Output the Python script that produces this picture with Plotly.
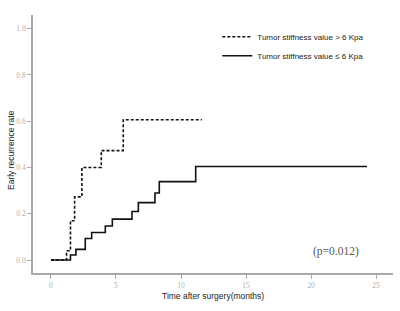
import plotly.graph_objects as go

# Kaplan-Meier style cumulative recurrence curves
high_months = [0, 1.2, 1.5, 1.82, 2.38, 3.87, 5.56, 11.6]
high_rate = [0.0, 0.04, 0.17, 0.273, 0.40, 0.473, 0.606, 0.606]

low_months = [0, 1.5, 1.92, 2.64, 3.13, 4.18, 4.72, 6.23, 6.72, 8.0, 8.33, 11.13, 24.3]
low_rate = [0.0, 0.022, 0.046, 0.093, 0.119, 0.147, 0.177, 0.21, 0.248, 0.29, 0.339, 0.404, 0.404]

x_ticks = [0, 5, 10, 15, 20, 25]
y_ticks = [0.0, 0.2, 0.4, 0.6, 0.8, 1.0]
y_tick_labels = ["0.0", "0.2", "0.4", "0.6", "0.8", "1.0"]

fig = go.Figure()
fig.add_trace(go.Scatter(
    x=high_months, y=high_rate, mode="lines", line_shape="hv",
    line=dict(color="#111111", width=1.6, dash="3px,2px"),
    name="Tumor stiffness value > 6 Kpa",
))
fig.add_trace(go.Scatter(
    x=low_months, y=low_rate, mode="lines", line_shape="hv",
    line=dict(color="#111111", width=1.6),
    name="Tumor stiffness value ≤ 6 Kpa",
))

fig.add_annotation(
    x=21.9, y=0.036, xref="x", yref="y", text="(p=0.012)", showarrow=False,
    xanchor="center", yanchor="middle",
    font=dict(family="Liberation Serif", size=11.5, color="#555555"),
)

# axis titles placed as annotations for exact positioning
fig.add_annotation(
    x=213, y=296, xref="paper", yref="paper", text="Time after surgery(months)",
    showarrow=False, xanchor="center", yanchor="middle",
    font=dict(family="Liberation Sans", size=8.5, color="#222222"),
)
fig.add_annotation(
    x=11, y=150, xref="paper", yref="paper", text="Early recurrence rate",
    showarrow=False, xanchor="center", yanchor="middle", textangle=-90,
    font=dict(family="Liberation Sans", size=8.5, color="#222222"),
)

axis_common = dict(
    showline=True, linecolor="#a8a8a8", linewidth=1.6,
    ticks="outside", ticklen=4, tickcolor="#a8a8a8", tickwidth=1,
    showgrid=False, zeroline=False, automargin=False,
    tickfont=dict(family="Liberation Serif", size=7.5, color="#b0b0b0"),
)

W, H = 400, 311
ML, MR, MT, MB = 33, 7, 15, 38
PW, PH = W - ML - MR, H - MT - MB

# convert the two title annotations from pixel positions to paper fractions
for ann in fig.layout.annotations[1:]:
    ann.x = (ann.x - ML) / PW
    ann.y = (H - MB - ann.y) / PH

fig.update_layout(
    width=W, height=H,
    margin=dict(l=ML, r=MR, t=MT, b=MB),
    plot_bgcolor="white", paper_bgcolor="white",
    font=dict(family="Liberation Sans", color="#222222"),
    xaxis=dict(range=[-1.38, 26.3], tickvals=x_ticks, **axis_common),
    yaxis=dict(range=[-0.056, 1.059], tickvals=y_ticks, ticktext=y_tick_labels, **axis_common),
    legend=dict(
        x=0.512, y=0.972, xanchor="left", yanchor="top",
        font=dict(size=8, color="#222222"),
        bgcolor="rgba(0,0,0,0)", itemwidth=30, tracegroupgap=0,
    ),
    showlegend=True,
)

fig.write_html(
    "out.html",
    config={"displayModeBar": False},
    post_script="document.body.style.margin='0';document.body.style.padding='0';",
)
